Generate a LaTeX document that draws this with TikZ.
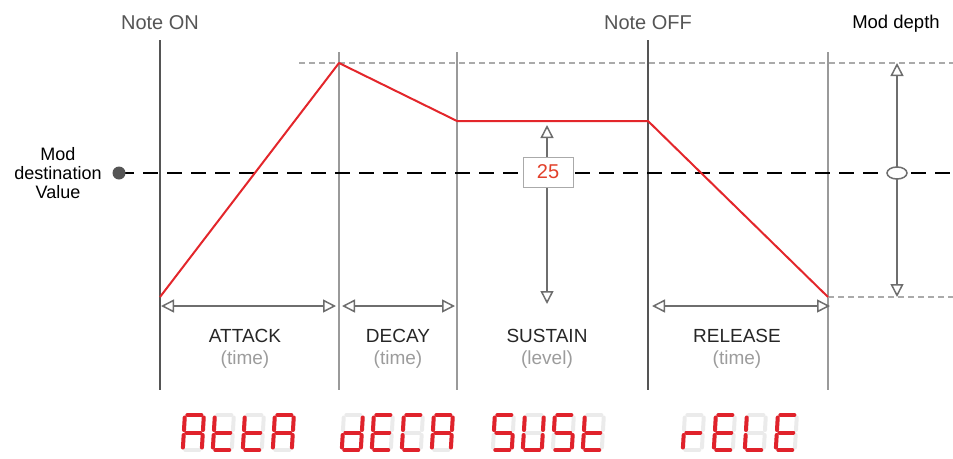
\documentclass[tikz,border=0pt]{standalone}
\usepackage{fontspec}
\setmainfont{Liberation Sans}
\usetikzlibrary{arrows.meta,shapes.geometric}

\definecolor{keygray}{HTML}{555555}
\definecolor{phasegray}{HTML}{9A9A9A}
\definecolor{spangray}{HTML}{6E6E6E}
\definecolor{hintgray}{HTML}{9C9C9C}
\definecolor{guidegray}{HTML}{AAAAAA}
\definecolor{envred}{HTML}{E3262B}
\definecolor{valred}{HTML}{E2402A}
\definecolor{segoffgray}{HTML}{EBEBEB}
\definecolor{segonred}{HTML}{E0222B}

% one seven-segment character: #1 = left edge, #2 = lit segments
\newcommand\ledchar[2]{%
  \begin{scope}[shift={(#1,413)}, xslant=0.06]
    \foreach \s/\xa/\ya/\xb/\yb in {a/4.5/2/18.5/2, b/21/4.5/21/17,
        c/21/22/21/34.5, d/4.5/37/18.5/37, e/2/22/2/34.5,
        f/2/4.5/2/17, g/4.5/19.5/18.5/19.5} {
      \coordinate (s\s1) at (\xa,\ya);
      \coordinate (s\s2) at (\xb,\yb);
      \draw[segoff] (s\s1) -- (s\s2);
    }
    \foreach \s in {#2}
      \draw[segon] (s\s1) -- (s\s2);
  \end{scope}}

\begin{document}
\begin{tikzpicture}[x=1pt, y=-1pt,
    every node/.style={inner sep=0pt, font=\fontsize{19}{22}\selectfont},
    keyline/.style={draw=keygray, line width=2pt},
    phaseline/.style={draw=phasegray, line width=1.2pt},
    guide/.style={draw=guidegray, line width=1.2pt, dash pattern=on 6pt off 4pt},
    modline/.style={draw=black, line width=2.6pt, dash pattern=on 15pt off 9pt},
    span/.style={draw=spangray, line width=1.5pt,
      {Triangle[open, length=13pt, width=13pt]}-{Triangle[open, length=13pt, width=13pt]}},
    phase/.style={anchor=base, text=black!85},
    hint/.style={anchor=base, text=hintgray},
    segoff/.style={draw=segoffgray, line width=4pt, line cap=round},
    segon/.style={draw=segonred, line width=4pt, line cap=round}]

\useasboundingbox (0,0) rectangle (953,458);

% Note events
\node[anchor=base, text=keygray, font=\fontsize{20}{22}\selectfont] (noteon) at (160,29) {Note ON};
\node[anchor=base, text=keygray, font=\fontsize{20}{22}\selectfont] (noteoff) at (648,29) {Note OFF};
\node[anchor=base, font=\fontsize{18.5}{22}\selectfont] (moddepth) at (896,28) {Mod depth};

\coordinate (on top) at (160,40);
\coordinate (on bot) at (160,390);
\coordinate (off top) at (648,40);
\coordinate (off bot) at (648,390);
\draw[keyline] (on top) -- (on bot);
\draw[keyline] (off top) -- (off bot);

% Phase boundaries
\foreach \x/\n in {339/att, 457/dec, 828/rel} {
  \coordinate (\n top) at (\x,52);
  \coordinate (\n bot) at (\x,390);
  \draw[phaseline] (\n top) -- (\n bot);
}

% Peak and floor guides
\coordinate (peak start) at (299,63);
\coordinate (peak end) at (953,63);
\coordinate (floor start) at (828,297);
\coordinate (floor end) at (953,297);
\draw[guide] (peak start) -- (peak end);
\draw[guide] (floor start) -- (floor end);

% Mod destination value
\node[align=center, font=\fontsize{18}{19}\selectfont] (dest) at (58,173.5)
    {Mod\\destination\\Value};
\coordinate (mod src) at (119,173);
\coordinate (mod end) at (953,173);
\draw[modline] (mod src) -- (mod end);
\node[circle, fill=keygray, minimum size=13pt] (dot) at (mod src) {};

% Envelope
\coordinate (p0) at (160,297);
\coordinate (p1) at (339,63);
\coordinate (p2) at (457,121);
\coordinate (p3) at (648,121);
\coordinate (p4) at (828,297);
\draw[envred, line width=2pt, line join=round]
    (p0) -- (p1) -- (p2) -- (p3) -- (p4);

% Sustain level
\coordinate (sus top) at (547,125);
\coordinate (sus bot) at (547,304);
\draw[span] (sus top) -- (sus bot);
\node[draw=guidegray, line width=1pt, fill=white, minimum width=50pt,
    minimum height=30pt, text=valred, font=\fontsize{20}{22}\selectfont]
    (level) at (548,172) {25};

% Mod depth
\coordinate (depth top) at (897,63);
\coordinate (depth bot) at (897,297);
\draw[span] (depth top) -- (depth bot);
\node[ellipse, draw=spangray, line width=1.5pt, fill=white,
    minimum width=20pt, minimum height=12pt] (depth mid) at (897,173) {};

% Time spans
\coordinate (att l) at (161,306);
\coordinate (att r) at (336,306);
\coordinate (dec l) at (342,306);
\coordinate (dec r) at (455,306);
\coordinate (rel l) at (652,306);
\coordinate (rel r) at (830,306);
\draw[span] (att l) -- (att r);
\draw[span] (dec l) -- (dec r);
\draw[span] (rel l) -- (rel r);

% Phase labels
\node[phase] (attack) at (245,342) {ATTACK};
\node[hint] (attack t) at (245,364) {(time)};
\node[phase] (decay) at (398,342) {DECAY};
\node[hint] (decay t) at (398,364) {(time)};
\node[phase] (sustain) at (547,342) {SUSTAIN};
\node[hint] (sustain t) at (547,364) {(level)};
\node[phase] (release) at (737,342) {RELEASE};
\node[hint] (release t) at (737,364) {(time)};

% Display readout
\ledchar{183}{a,b,c,e,f,g}
\ledchar{213}{d,e,f,g}
\ledchar{243}{d,e,f,g}
\ledchar{273}{a,b,c,e,f,g}

\ledchar{342}{b,c,d,e,g}
\ledchar{372}{a,d,e,f,g}
\ledchar{402}{a,d,e,f}
\ledchar{432}{a,b,c,e,f,g}

\ledchar{493}{a,c,d,f,g}
\ledchar{523}{b,c,d,e,f}
\ledchar{553}{a,c,d,f,g}
\ledchar{583}{d,e,f,g}

\ledchar{683}{e,g}
\ledchar{714}{a,d,e,f,g}
\ledchar{745}{d,e,f}
\ledchar{776}{a,d,e,f,g}

\end{tikzpicture}
\end{document}
